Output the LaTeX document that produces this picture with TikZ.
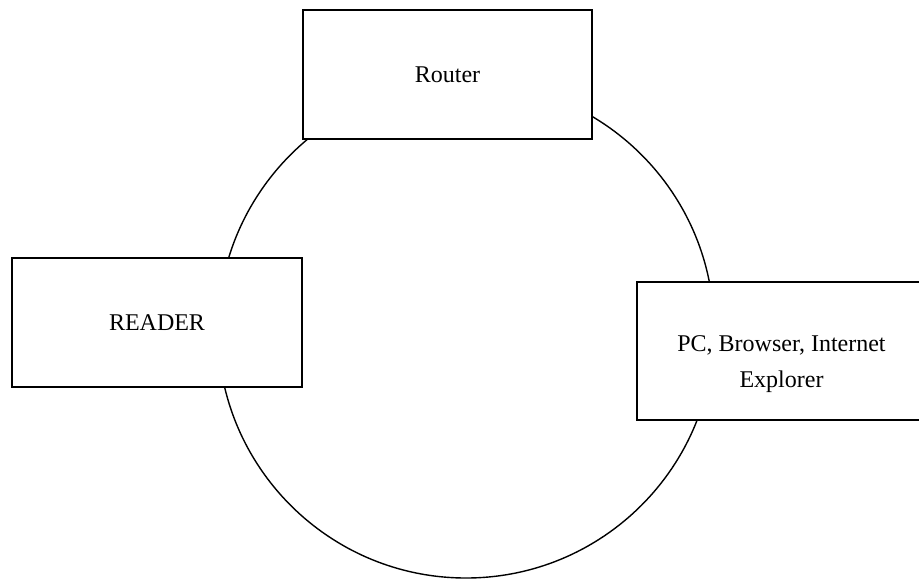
\documentclass[tikz,border=0pt]{standalone}
\usepackage{fontspec}
\setmainfont{Liberation Serif}
\begin{document}
\begin{tikzpicture}[x=0.5pt,y=-0.5pt,
  box/.style={draw, fill=white, line width=0.9pt, rectangle, inner sep=0pt,
    font=\fontsize{12pt}{18pt}\selectfont},
  lbl/.style={font=\fontsize{12pt}{18pt}\selectfont, align=center, inner sep=0pt},
  ring/.style={draw, circle, line width=0.7pt, inner sep=0pt}]
\useasboundingbox (0,0) rectangle (919,578);
\clip (0,0) rectangle (919,578);
\node[ring, minimum size=248pt] (loop) at (466,330) {};
\node[box, minimum width=144.5pt, minimum height=64.5pt] (router) at (447.5,74.5) {Router};
\node[box, minimum width=145pt, minimum height=64.5pt] (reader) at (157,322.5) {READER};
\node[box, minimum width=144.5pt, minimum height=69pt] (pc) at (781.5,351) {};
\node[lbl] (pclabel) at (781.5,364) {PC, Browser, Internet\\Explorer};
\end{tikzpicture}
\end{document}
